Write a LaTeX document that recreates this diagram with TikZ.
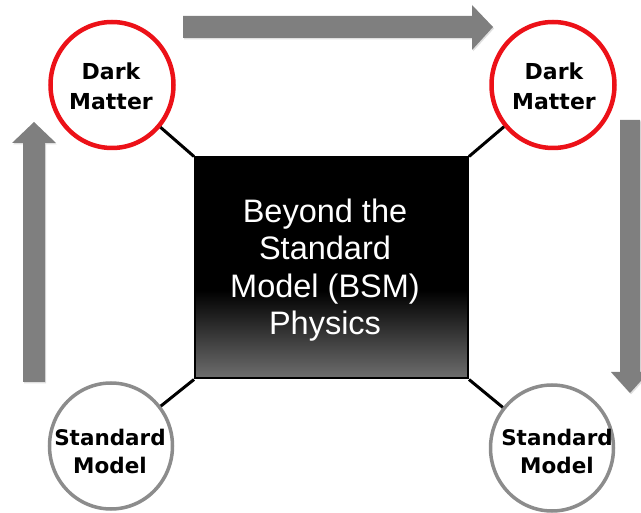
\documentclass[tikz,border=0pt]{standalone}
\usepackage{fontspec}
\setmainfont{Liberation Sans}
\newfontfamily\circfont{DejaVu Sans}
\usetikzlibrary{shapes.geometric,shadows}
\definecolor{arrowgray}{HTML}{7F7F7F}
\definecolor{ringgray}{HTML}{8C8C8C}
\definecolor{dmred}{HTML}{EC1118}
\definecolor{botgray}{HTML}{6E6E6E}
\pgfdeclareverticalshading{bsmshade}{100bp}{color(0bp)=(botgray); color(25bp)=(botgray); color(45bp)=(black); color(100bp)=(black)}
\begin{document}
\begin{tikzpicture}[x=1pt,y=-1pt,
  blockarrow/.style={fill=arrowgray, draw=none, drop shadow={opacity=0.25,shadow xshift=1pt,shadow yshift=-1.5pt}},
  dmnode/.style={ellipse, draw=dmred, line width=4.5pt, fill=white, minimum width=123pt, minimum height=126pt, inner sep=0pt, drop shadow={opacity=0.2,shadow xshift=1pt,shadow yshift=-1.5pt}},
  smnode/.style={dmnode, draw=ringgray, line width=3.5pt},
  dmtext/.style={align=center, inner sep=0pt, font=\circfont\bfseries\fontsize{22}{30}\selectfont},
  smtext/.style={align=center, inner sep=0pt, font=\circfont\bfseries\fontsize{21.5}{28}\selectfont},
  bsmbox/.style={rectangle, draw=black, line width=2pt, shading=bsmshade, minimum width=273pt, minimum height=221pt, inner sep=0pt},
  bsmtext/.style={align=center, inner sep=0pt, text=white, font=\fontsize{32.5}{37.5}\selectfont},
  link/.style={line width=3pt, black}]
\useasboundingbox (0,0) rectangle (641,513);
% block arrows
\fill[blockarrow] (183,16) -- (472,16) -- (472,5) -- (493,27) -- (472,50) -- (472,38) -- (183,38) -- cycle;
\fill[blockarrow] (23,382) -- (23,143) -- (12,143) -- (34,122) -- (56,143) -- (45,143) -- (45,382) -- cycle;
\fill[blockarrow] (620,120) -- (640,120) -- (640,372) -- (649,372) -- (630,393) -- (611,372) -- (620,372) -- cycle;
% central box
\node[bsmbox] (bsm) at (331.5,268) {};
\node[bsmtext] (bsmlabel) at (325,270) {Beyond the\\Standard\\Model (BSM)\\Physics};
% circles
\node[dmnode] (dml) at (112,85) {};
\node[dmtext] (dmltext) at (111,86) {Dark\\Matter};
\node[dmnode] (dmr) at (553,85) {};
\node[dmtext] (dmrtext) at (554,86) {Dark\\Matter};
\node[smnode] (sml) at (111,446) {};
\node[smtext] (smltext) at (110,451) {Standard\\Model};
\node[smnode] (smr) at (552,448) {};
\node[smtext] (smrtext) at (557,451) {Standard\\Model};
% links
\draw[link] (bsm.north west) -- (dml);
\draw[link] (bsm.north east) -- (dmr);
\draw[link] (bsm.south west) -- (sml);
\draw[link] (bsm.south east) -- (smr);
\end{tikzpicture}
\end{document}
